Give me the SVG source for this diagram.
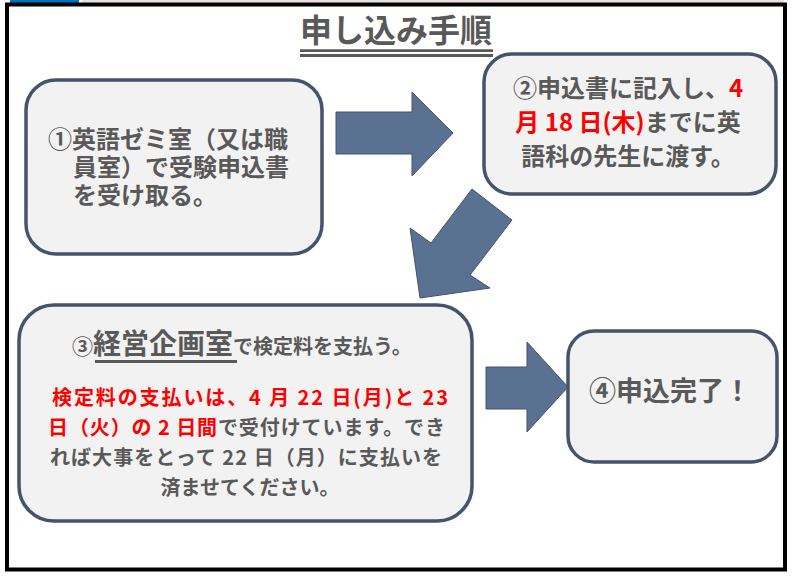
<svg xmlns="http://www.w3.org/2000/svg" width="792" height="576" viewBox="0 0 792 576">
<style>
.box{fill:#f2f2f2;stroke:#44546a;stroke-width:3.5}
.arrow{fill:#5b7191;stroke:#44546a;stroke-width:1}
text{font-family:"Noto Sans CJK JP","Noto Sans",sans-serif;font-weight:bold;fill:#595959}
.red{fill:#ff0000}
.c{text-anchor:middle}
</style>
<rect x="0" y="0" width="792" height="576" fill="#ffffff"/>
<rect x="10" y="0" width="69" height="3" fill="#0070c0"/>
<rect x="82" y="0" width="702" height="3" fill="#e8e0dc"/>
<rect x="7" y="4.5" width="778" height="565" fill="none" stroke="#000" stroke-width="4"/>

<g id="title">
<text class="c" x="396" y="42" font-size="32">申し込み手順</text>
<line x1="300" y1="50.7" x2="493" y2="50.7" stroke="#595959" stroke-width="2.7"/>
<line x1="300" y1="55.5" x2="493" y2="55.5" stroke="#595959" stroke-width="3"/>
</g>

<g id="connectors">
<polygon class="arrow" points="336,112 412,112 412,92 453,133 412,176 412,154 336,154"/>
<polygon class="arrow" points="472,189 512,220 470,275 490,288 420,298 410,228 431,243"/>
<polygon class="arrow" points="486,367 527,367 527,342 568,387 527,432 527,409 486,409"/>
</g>

<g id="step1">
<rect class="box" x="26" y="80" width="296" height="174" rx="30"/>
<text font-size="24"><tspan x="48" y="148">①英語ゼミ室（又は職</tspan><tspan x="73" y="176">員室）で受験申込書</tspan><tspan x="73" y="204">を受け取る。</tspan></text>
</g>

<g id="step2">
<rect class="box" x="484" y="54" width="292" height="140" rx="28"/>
<text class="c" x="628" y="97" font-size="24">②申込書に記入し、<tspan class="red">4</tspan></text>
<text class="c" x="628" y="131" font-size="24"><tspan class="red">月 18 日(木)</tspan>までに英</text>
<text class="c" x="628" y="165" font-size="24">語科の先生に渡す。</text>
</g>

<g id="step3">
<rect class="box" x="19" y="305" width="453" height="216" rx="35"/>
<text x="72" y="354"><tspan font-size="21">③</tspan><tspan font-size="28">経営企画室</tspan><tspan font-size="20">で検定料を支払う。</tspan></text>
<line x1="95" y1="361.5" x2="237" y2="361.5" stroke="#595959" stroke-width="3"/>
<text x="52" y="405" font-size="20" textLength="396" lengthAdjust="spacing" class="red">検定料の支払いは、4 月 22 日(月)と 23</text>
<text x="48" y="435" font-size="20" textLength="397" lengthAdjust="spacing"><tspan class="red">日（火）の 2 日間</tspan>で受付けています。でき</text>
<text x="50" y="465" font-size="20" textLength="392" lengthAdjust="spacing">れば大事をとって 22 日（月）に支払いを</text>
<text class="c" x="250" y="495" font-size="20">済ませてください。</text>
</g>

<g id="step4">
<rect class="box" x="568" y="331" width="209" height="131" rx="26"/>
<text class="c" x="670" y="401" font-size="27">④申込完了！</text>
</g>
</svg>
